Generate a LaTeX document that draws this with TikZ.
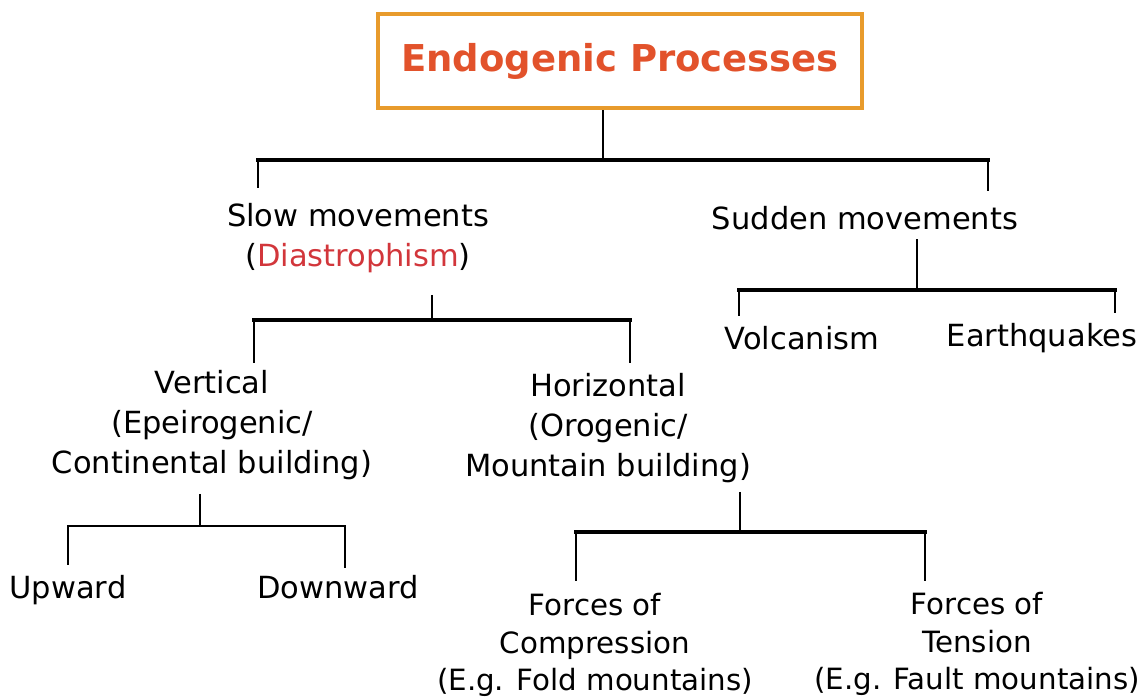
\documentclass[tikz,border=0pt]{standalone}
\usepackage{fontspec}
\setmainfont{DejaVu Sans}
\usepackage{tikz}
\usetikzlibrary{positioning}
\definecolor{titleorange}{HTML}{E89B2C}
\definecolor{titlered}{HTML}{E2522B}
\definecolor{diared}{HTML}{D2363B}
\tikzset{
    %Define style for the title box
    titlebox/.style={
           rectangle,
           draw=titleorange, line width=4.5pt,
           minimum width=484pt,
           minimum height=94pt,
           font=\fontsize{37}{46}\selectfont\bfseries,
           text=titlered,
           text centered},
    %Define style for the tree entries
    entry/.style={
           align=center,
           inner sep=2pt,
           font=\fontsize{30.5}{40}\selectfont},
    lowentry/.style={
           entry,
           font=\fontsize{29.3}{37.5}\selectfont},
    % Define line styles
    bar/.style={
           line width=4.5pt,
           line cap=rect},
    thinbar/.style={
           line width=2pt,
           line cap=rect},
    stem/.style={
           line width=2.5pt},
    drop/.style={
           line width=2.2pt}
}
\begin{document}
\begin{tikzpicture}[x=1pt,y=-1pt]
\useasboundingbox (0,0) rectangle (1147,700);
\node[titlebox](title) at (620,61) {Endogenic Processes};
\node[entry](slow) at (358,238) {Slow movements\\(\textcolor{diared}{Diastrophism})};
\node[entry](sudden) at (865,218) {Sudden movements};
\node[entry](volcano) at (802,338) {Volcanism};
\node[entry](quakes) at (1042,338) {Earthquakes};
\node[entry](vert) at (212,425) {Vertical\\(Epeirogenic/\\Continental building)};
\node[entry](horiz) at (608,428) {Horizontal\\(Orogenic/\\Mountain building)};
\node[entry](upward) at (68,590) {Upward};
\node[entry](downward) at (338,587) {Downward};
\node[lowentry](compress) at (595,645) {Forces of\\Compression\\(E.g. Fold mountains)};
\node[lowentry](tension) at (977,644) {Forces of\\Tension\\(E.g. Fault mountains)};
% junctions of the tree
\coordinate (j1) at (603,160);
\coordinate (j1l) at (258,160);
\coordinate (j1r) at (988,160);
\coordinate (j2) at (432,320);
\coordinate (j2l) at (254,320);
\coordinate (j2r) at (630,320);
\coordinate (j3) at (917,290);
\coordinate (j3l) at (739,290);
\coordinate (j3r) at (1115,290);
\coordinate (j4) at (200,526);
\coordinate (j4l) at (68,526);
\coordinate (j4r) at (345,526);
\coordinate (j5) at (740,532);
\coordinate (j5l) at (576,532);
\coordinate (j5r) at (925,532);
% Endogenic Processes
\draw[stem] (j1 |- title.south) -- (j1);
\draw[bar] (j1l) -- (j1r);
\draw[drop, shorten >=13pt] (j1l) -- (j1l |- slow.north);
\draw[drop, shorten >=13pt] (j1r) -- (j1r |- sudden.north);
% Slow movements
\draw[stem, shorten <=20pt] (j2 |- slow.south) -- (j2);
\draw[bar] (j2l) -- (j2r);
\draw[drop, shorten >=5pt] (j2l) -- (j2l |- vert.north);
\draw[drop, shorten >=8pt] (j2r) -- (j2r |- horiz.north);
% Sudden movements
\draw[stem, line width=1.6pt, shorten <=7pt] (j3 |- sudden.south) -- (j3);
\draw[bar] (j3l) -- (j3r);
\draw[drop, shorten >=8pt] (j3l) -- (j3l |- volcano.north);
\draw[drop, shorten >=8pt] (j3r) -- (j3r |- quakes.north);
% Vertical
\draw[stem, line width=1.4pt, shorten <=12pt] (j4 |- vert.south) -- (j4);
\draw[thinbar] (j4l) -- (j4r);
\draw[drop, line width=1.6pt, shorten >=8pt] (j4l) -- (j4l |- upward.north);
\draw[drop, line width=1.6pt, shorten >=5pt] (j4r) -- (j4r |- downward.north);
% Horizontal
\draw[stem, line width=1.6pt, shorten <=7pt] (j5 |- horiz.south) -- (j5);
\draw[bar, line width=4pt] (j5l) -- (j5r);
\draw[drop, shorten >=10pt] (j5l) -- (j5l |- compress.north);
\draw[drop, shorten >=9pt] (j5r) -- (j5r |- tension.north);
\end{tikzpicture}
\end{document}
